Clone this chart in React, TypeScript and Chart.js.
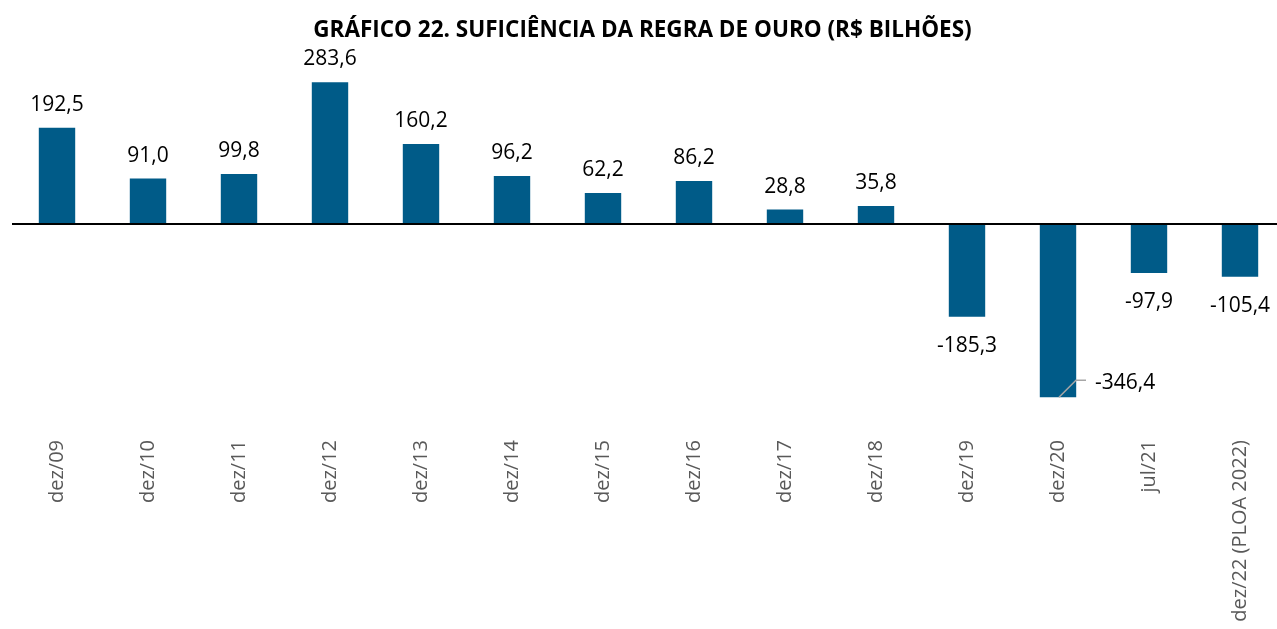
import React, { useEffect, useRef } from "react";
import { Chart, registerables } from "chart.js";

Chart.register(...registerables);

const categories: string[] = [
  "dez/09", "dez/10", "dez/11", "dez/12", "dez/13", "dez/14", "dez/15",
  "dez/16", "dez/17", "dez/18", "dez/19", "dez/20", "jul/21", "dez/22 (PLOA 2022)",
];
const values: number[] = [
  192.5, 91.0, 99.8, 283.6, 160.2, 96.2, 62.2, 86.2, 28.8, 35.8, -185.3, -346.4, -97.9, -105.4,
];
const titleText = "GRÁFICO 22. SUFICIÊNCIA DA REGRA DE OURO (R$ BILHÕES)";

const BAR_COLOR = "#005b88";
const FONT = "'Open Sans', 'Noto Sans', sans-serif";

const fmt = (v: number) => v.toFixed(1).replace(".", ",");

const overlayPlugin = {
  id: "overlay",
  afterDatasetsDraw(chart: any) {
    const ctx = chart.ctx as CanvasRenderingContext2D;
    const area = chart.chartArea;
    const yScale = chart.scales.y;
    const y0 = yScale.getPixelForValue(0);
    ctx.save();
    // zero line
    ctx.strokeStyle = "#000000";
    ctx.lineWidth = 2;
    ctx.beginPath();
    ctx.moveTo(area.left + 0.5, y0);
    ctx.lineTo(area.right, y0);
    ctx.stroke();

    // data labels
    const meta = chart.getDatasetMeta(0);
    ctx.fillStyle = "#000000";
    ctx.font = `21px ${FONT}`;
    ctx.textAlign = "center";
    ctx.textBaseline = "alphabetic";
    const minIdx = values.indexOf(Math.min(...values));
    meta.data.forEach((bar: any, i: number) => {
      const v = values[i];
      const text = fmt(v);
      if (i === minIdx) {
        const bx = bar.x;
        const by = bar.y;
        ctx.strokeStyle = "#a6a6a6";
        ctx.lineWidth = 1.5;
        ctx.beginPath();
        ctx.moveTo(bx + 1, by);
        ctx.lineTo(bx + 18, by - 17);
        ctx.lineTo(bx + 28, by - 17);
        ctx.stroke();
        ctx.textAlign = "left";
        ctx.fillText(text, bx + 37, by - 8);
        ctx.textAlign = "center";
      } else if (v >= 0) {
        ctx.fillText(text, bar.x, bar.y - 17);
      } else {
        ctx.fillText(text, bar.x, bar.y + 35);
      }
    });

    // title
    ctx.font = `bold 22.5px ${FONT}`;
    ctx.textAlign = "center";
    ctx.fillText(titleText, 642.5, 37);
    ctx.restore();
  },
};

export default function App() {
  const canvasRef = useRef<HTMLCanvasElement | null>(null);

  useEffect(() => {
    document.body.style.margin = "0";
    const canvas = canvasRef.current;
    if (!canvas) return;
    const chart = new Chart(canvas, {
      type: "bar",
      data: {
        labels: categories,
        datasets: [
          {
            data: values,
            backgroundColor: BAR_COLOR,
            borderWidth: 0,
            barPercentage: 0.8,
            categoryPercentage: 0.5,
          },
        ],
      },
      options: {
        responsive: false,
        animation: false,
        maintainAspectRatio: false,
        layout: { padding: { top: 74, left: 11.5, right: 4.5, bottom: 0 } },
        plugins: {
          legend: { display: false },
          title: { display: false },
          tooltip: { enabled: false },
        },
        scales: {
          x: {
            grid: { display: false, drawTicks: false },
            border: { display: false },
            ticks: {
              autoSkip: false,
              minRotation: 90,
              maxRotation: 90,
              padding: 16,
              color: "#595959",
              font: { family: FONT, size: 20 },
            },
            afterFit: (scale: any) => {
              scale.height = 205;
            },
          },
          y: {
            display: false,
            min: -400,
            max: 300,
          },
        },
      },
      plugins: [overlayPlugin],
    });
    return () => chart.destroy();
  }, []);

  return (
    <div style={{ width: 1277, height: 629, overflow: "hidden", position: "relative" }}>
      <canvas ref={canvasRef} width={1290} height={629} style={{ display: "block" }} />
    </div>
  );
}
